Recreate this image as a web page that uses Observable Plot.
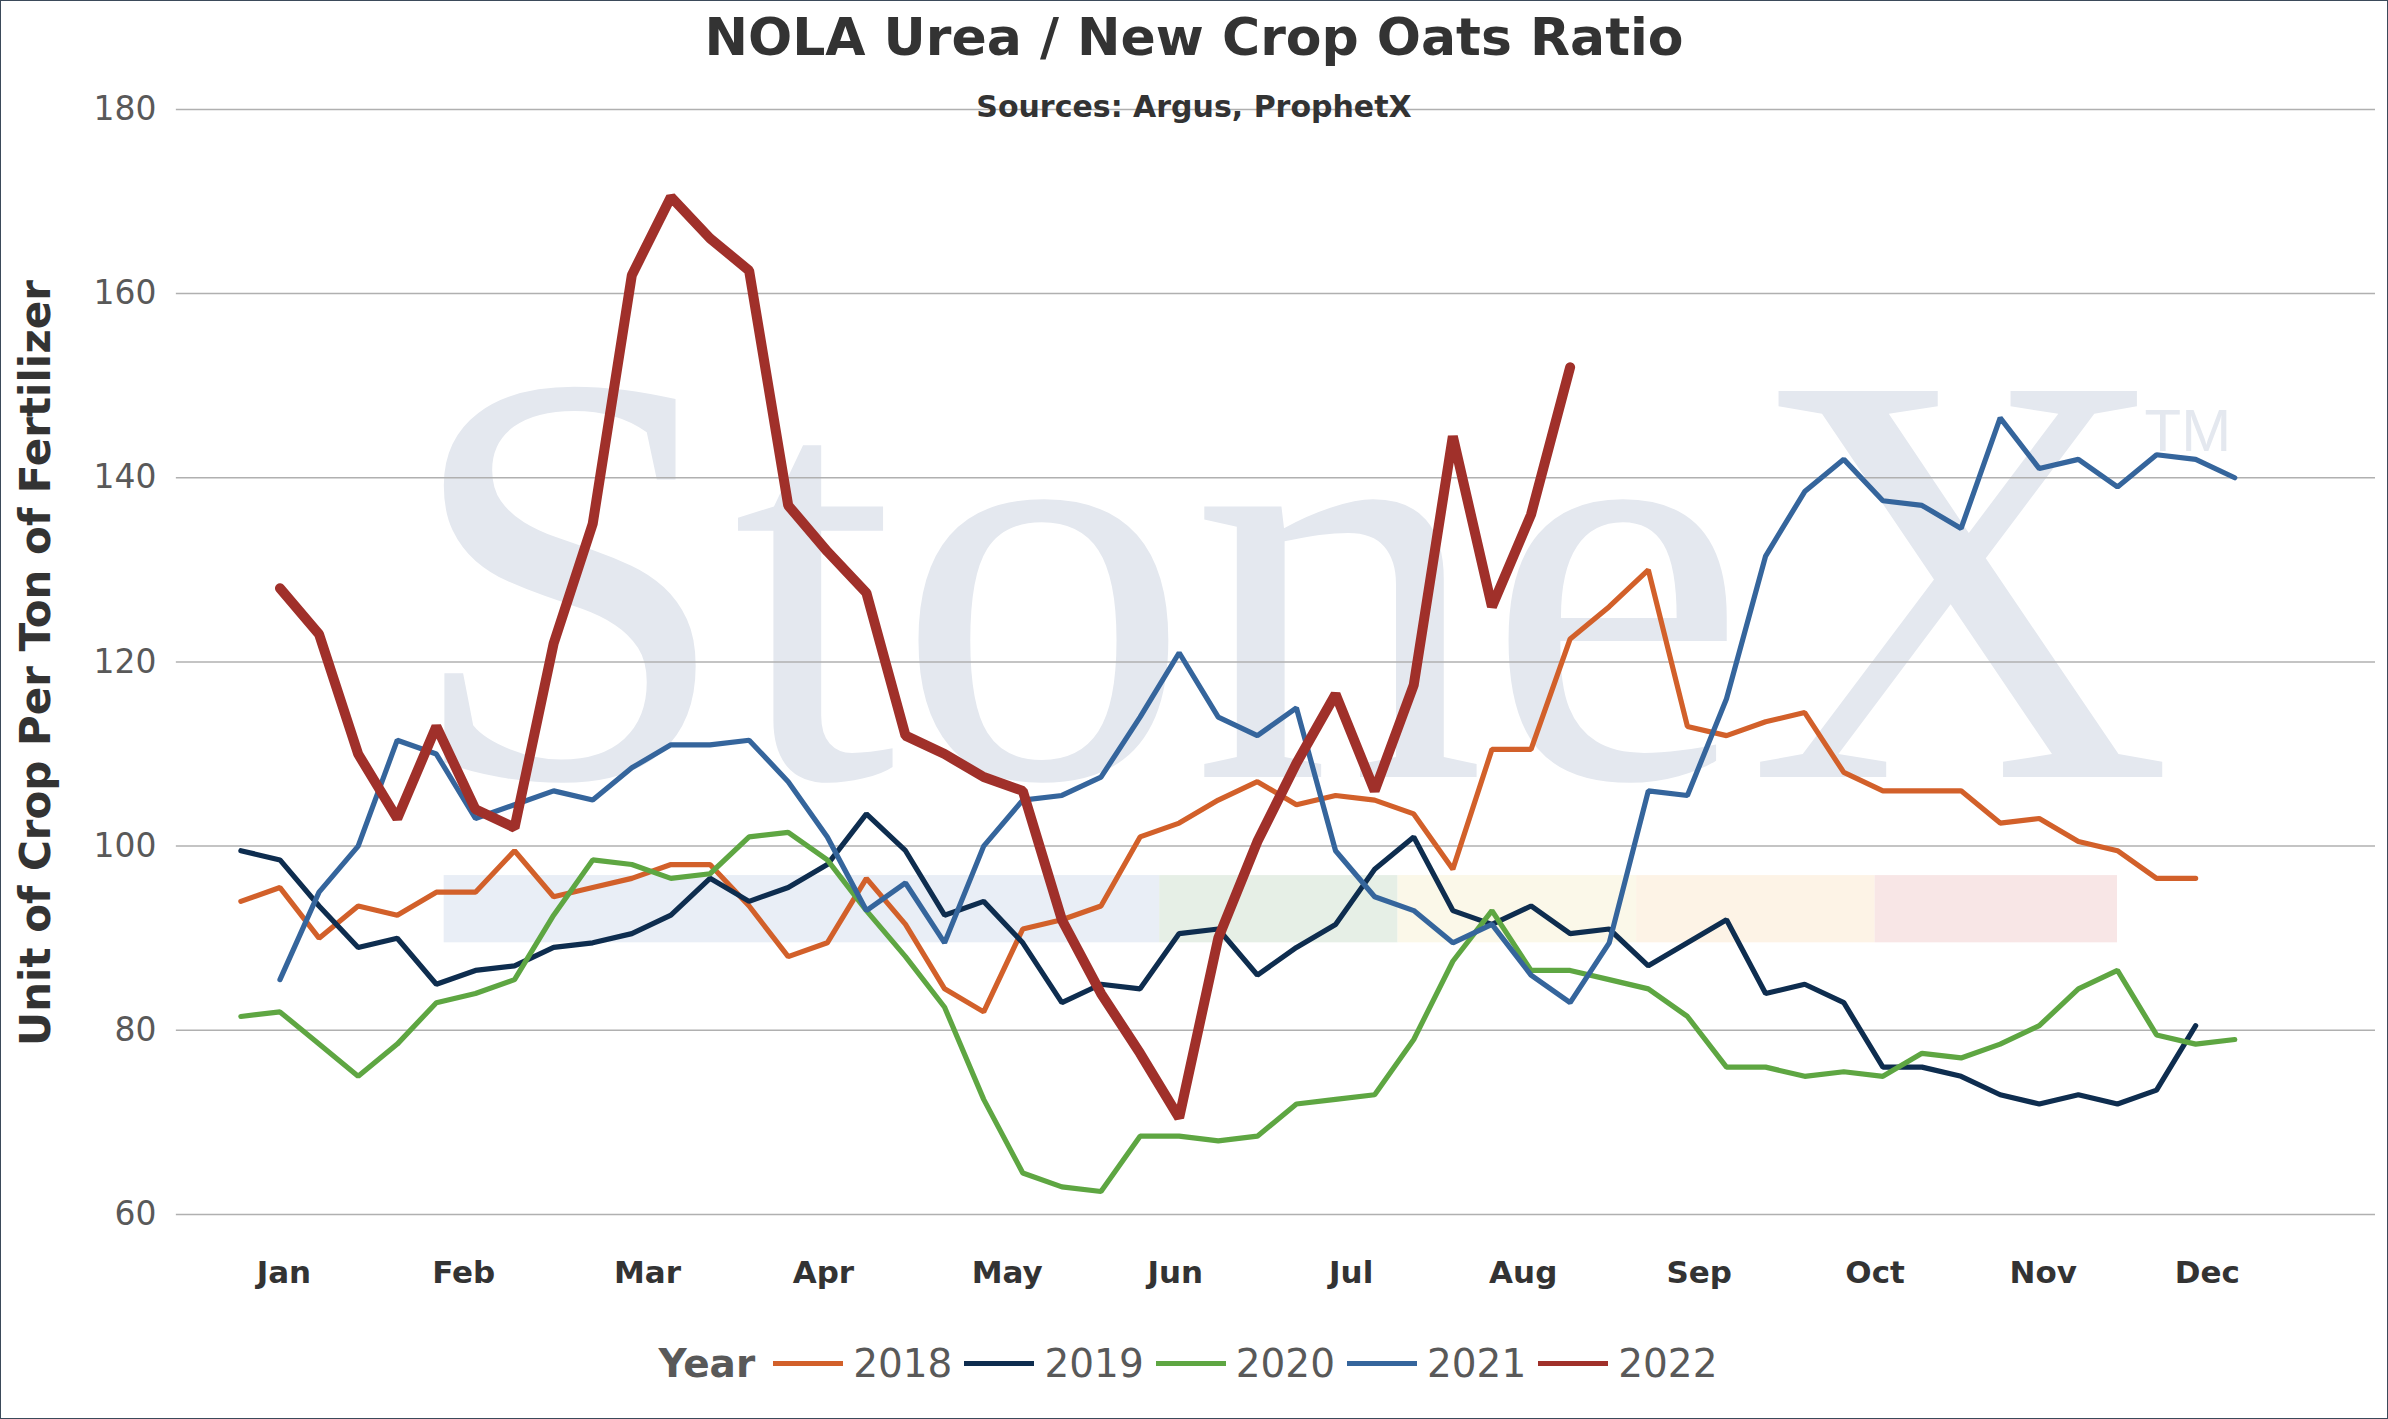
<!DOCTYPE html>
<html><head><meta charset="utf-8">
<script src="https://cdn.jsdelivr.net/npm/d3@7"></script>
<script src="https://cdn.jsdelivr.net/npm/@observablehq/plot@0.6"></script>
<style>
body{margin:0;background:#fff;font-family:Verdana,"DejaVu Sans",sans-serif}
#wrap{position:relative;width:2386px;height:1417px;border:1px solid #3b4a5a;overflow:hidden}
#title{position:absolute;top:6px;left:0;width:100%;text-align:center;font-weight:bold;font-size:52px;color:#333;z-index:2}
#sub{position:absolute;top:88px;left:0;width:100%;text-align:center;font-weight:bold;font-size:30px;color:#333;z-index:2}
#ytitle{position:absolute;left:34px;top:662px;transform:translate(-50%,-50%) rotate(-90deg);white-space:nowrap;font-weight:bold;font-size:42px;color:#333;z-index:2}
#chart{position:absolute;top:0;left:0}
#legend{position:absolute;top:1340px;left:0;width:100%;display:flex;justify-content:center;align-items:center;font-size:39px;color:#595959}
#legend b{margin-right:18px}
.it{display:flex;align-items:center;margin-right:12px}
.sw{width:70px;height:5px;margin-right:10px}
</style></head><body>
<div id="wrap">
<div id="chart"></div>
<div id="title">NOLA Urea / New Crop Oats Ratio</div>
<div id="sub">Sources: Argus, ProphetX</div>
<div id="ytitle">Unit of Crop Per Ton of Fertilizer</div>
<div id="legend"></div>
</div>
<script>
const years=["2018","2019","2020","2021","2022"];
const colors=["#d2602a","#0e2d4f","#5ea642","#35659c","#a0302a"];
const startIdx={"2018":-1,"2019":-1,"2020":-1,"2021":0,"2022":0};
const v2018=[94,95.5,90,93.5,92.5,95,95,99.5,94.5,95.5,96.5,98,98,93.5,88,89.5,96.5,91.5,84.5,82,91,92,93.5,101,102.5,105,107,104.5,105.5,105,103.5,97.5,110.5,110.5,122.5,126,130,113,112,113.5,114.5,108,106,106,106,102.5,103,100.5,99.5,96.5,96.5];
const v2019=[99.5,98.5,93.5,89,90,85,86.5,87,89,89.5,90.5,92.5,96.5,94,95.5,98,103.5,99.5,92.5,94,89.5,83,85,84.5,90.5,91,86,89,91.5,97.5,101,93,91.5,93.5,90.5,91,87,89.5,92,84,85,83,76,76,75,73,72,73,72,73.5,80.5];
const v2020=[81.5,82,78.5,75,78.5,83,84,85.5,92.5,98.5,98,96.5,97,101,101.5,98.5,93,88,82.5,72.5,64.5,63,62.5,68.5,68.5,68,68.5,72,72.5,73,79,87.5,93,86.5,86.5,85.5,84.5,81.5,76,76,75,75.5,75,77.5,77,78.5,80.5,84.5,86.5,79.5,78.5,79];
const v2021=[85.5,95,100,111.5,110,103,104.5,106,105,108.5,111,111,111.5,107,101,93,96,89.5,100,105,105.5,107.5,114,121,114,112,115,99.5,94.5,93,89.5,91.5,86,83,89.5,106,105.5,116,131.5,138.5,142,137.5,137,134.5,146.5,141,142,139,142.5,142,140];
const v2022=[128,123,110,103,113,104,102,122,135,162,170.5,166,162.5,137,132,127.5,112,110,107.5,106,92,84,77.5,70.5,90,100.5,109,116.5,106,117.5,144.5,126,136,152];
const months=["Jan","Feb","Mar","Apr","May","Jun","Jul","Aug","Sep","Oct","Nov","Dec"];
const monthPos=[0.1,4.7,9.4,13.9,18.6,22.9,27.4,31.8,36.3,40.8,45.1,49.3];
const yTicks=[60,80,100,120,140,160,180];
const bands=[{x1:4.2,x2:22.5,c:"#e9eef6"},{x1:22.5,x2:28.6,c:"#e6efe6"},{x1:28.6,x2:34.7,c:"#fbf8e9"},{x1:34.7,x2:40.8,c:"#fdf3e6"},{x1:40.8,x2:47,c:"#f8e6e6"}];
const vals={"2018":v2018,"2019":v2019,"2020":v2020,"2021":v2021,"2022":v2022};
const data=[];
for(const y of years) vals[y].forEach((v,i)=>data.push({year:y,x:startIdx[y]+i,v}));
const col=d3.scaleOrdinal(years,colors);
const plot=Plot.plot({
 width:2388,height:1300,marginTop:108,marginBottom:86,marginLeft:175,marginRight:12,
 style:{fontFamily:"Verdana, DejaVu Sans, sans-serif",background:"transparent"},
 x:{domain:[-2.65,53.6],axis:null,label:null},
 y:{domain:[60,180],axis:null,label:null},
 marks:[
  Plot.rectY(bands,{x1:"x1",x2:"x2",y1:89.5,y2:96.8,fill:"c"}),
  Plot.text(["StoneX"],{x:25.8,y:107.5,text:d=>d,fontSize:590,fontFamily:"Liberation Serif, DejaVu Serif, serif",fill:"#e4e8ef",textAnchor:"middle",lineAnchor:"bottom"}),
  Plot.text(["TM"],{x:48.8,y:145,text:d=>d,fontSize:60,fill:"#e4e8ef",fontFamily:"Liberation Sans, sans-serif"}),
  Plot.gridY(yTicks,{stroke:"#b0b0b0",strokeOpacity:1,strokeWidth:1.5}),
  Plot.axisY(yTicks,{tickSize:0,tickPadding:0,dx:-20,fontSize:33,fill:"#595959",anchor:"left",label:null}),
  Plot.text(months,{x:(d,i)=>monthPos[i],y:60,dy:59,text:d=>d,fontSize:31,fontWeight:"bold",fill:"#333"}),
  ...years.map(y=>Plot.line(data.filter(d=>d.year===y),{x:"x",y:"v",stroke:col(y),strokeWidth:y==="2022"?10:5.2,strokeLinejoin:"miter"}))
 ]
});
document.getElementById("chart").append(plot);
const lg=document.getElementById("legend");
lg.innerHTML="<b>Year</b>"+years.map((y,i)=>`<span class="it"><span class="sw" style="background:${colors[i]}"></span>${y}</span>`).join("");
</script>
</body></html>
